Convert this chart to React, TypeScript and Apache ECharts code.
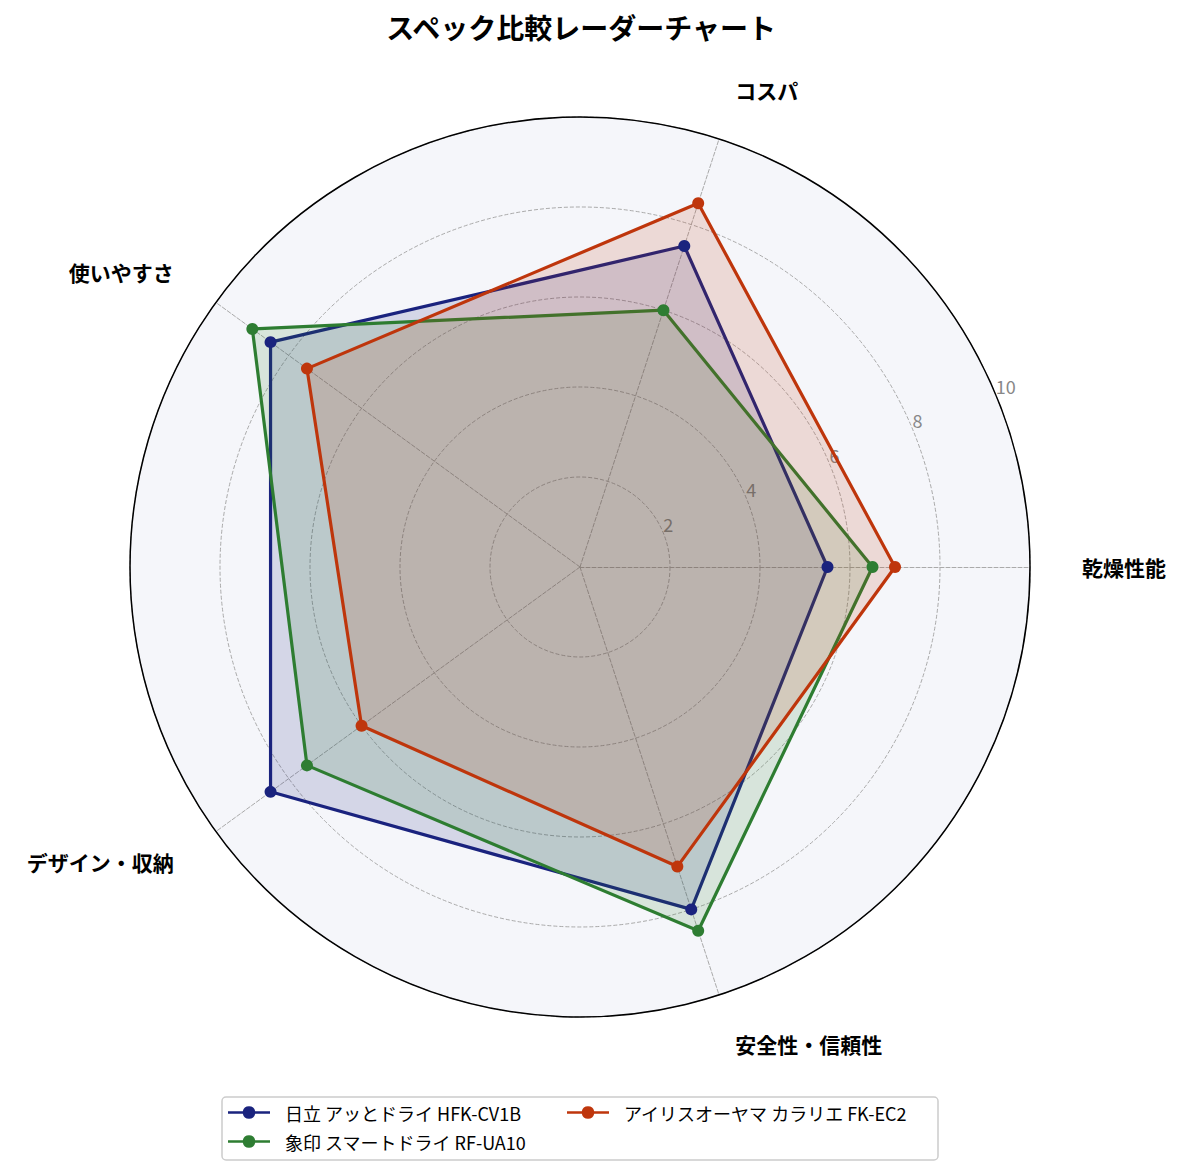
import React, { useEffect, useRef } from 'react';
import * as echarts from 'echarts';

const indicators = ['乾燥性能', 'コスパ', '使いやすさ', 'デザイン・収納', '安全性・信頼性'];
const seriesNames = ['日立 アッとドライ HFK-CV1B', '象印 スマートドライ RF-UA10', 'アイリスオーヤマ カラリエ FK-EC2'];
const hitachi = [5.5, 7.5, 8.5, 8.5, 8.0];
const zojirushi = [6.5, 6.0, 9.0, 7.5, 8.5];
const iris = [7.0, 8.5, 7.5, 6.0, 7.0];
const colors = ['#1a237e', '#2e7d32', '#bf360c'];
const maxValue = 10;

const FONT = '"Noto Sans CJK JP", "Noto Sans", sans-serif';
const legendIcon =
  'path://M0,5.8 L14.12,5.8 A6,6 0 0,1 25.88,5.8 L40,5.8 L40,8.2 L25.88,8.2 A6,6 0 0,1 14.12,8.2 L0,8.2 Z';

export default function App() {
  const ref = useRef<HTMLDivElement>(null);
  useEffect(() => {
    document.body.style.margin = '0';
    if (!ref.current) return;
    const chart = echarts.init(ref.current, null, { renderer: 'svg' });
    const center = [580, 567];
    const radius = 450;
    const values = [hitachi, zojirushi, iris];
    const legendText = { fontSize: 18, color: '#000', fontFamily: FONT, lineHeight: 21 };
    chart.setOption({
      animation: false,
      textStyle: { fontFamily: FONT },
      title: {
        text: 'スペック比較レーダーチャート',
        left: 576,
        textAlign: 'center',
        top: 8,
        textStyle: { fontSize: 28, fontWeight: 'bold', color: '#000', fontFamily: FONT },
      },
      legend: {
        left: 222,
        top: 1097,
        width: 720,
        data: [seriesNames[0], seriesNames[2], seriesNames[1]],
        icon: legendIcon,
        itemWidth: 42,
        itemHeight: 14,
        itemGap: 8,
        padding: [5, 8, 8, 6],
        borderColor: '#cccccc',
        borderWidth: 1.5,
        borderRadius: 4,
        formatter: (name: string) => (name === seriesNames[2] ? `{b|${name}}` : `{a|${name}}`),
        textStyle: {
          ...legendText,
          padding: [0, 0, 0, 10],
          rich: {
            a: { ...legendText, width: 274 },
            b: { ...legendText, width: 306 },
          },
        },
      },
      polar: { center, radius },
      angleAxis: { show: false, startAngle: 22.5, min: 0, max: 360 },
      radiusAxis: {
        min: 0,
        max: maxValue,
        interval: 2,
        z: 1,
        axisLine: { show: false },
        axisTick: { show: false },
        splitLine: { show: false },
        axisLabel: {
          showMinLabel: false,
          color: '#888888',
          fontSize: 18,
          fontFamily: FONT,
          margin: 0,
          align: 'left',
          verticalAlign: 'bottom',
        },
      },
      radar: [
        {
          center,
          radius,
          startAngle: 0,
          shape: 'circle',
          splitNumber: 5,
          indicator: indicators.map((name) => ({ name, max: maxValue, min: 0 })),
          axisName: { color: '#000', fontSize: 21, fontWeight: 'bold', fontFamily: FONT },
          nameGap: 52,
          axisLine: { lineStyle: { color: '#aaaaaa', type: 'dashed', width: 1 } },
          splitLine: { lineStyle: { color: '#aaaaaa', type: 'dashed', width: 1 } },
          splitArea: { show: true, areaStyle: { color: ['#f5f6fa'], opacity: 1 } },
        },
        {
          center,
          radius,
          startAngle: 0,
          shape: 'circle',
          splitNumber: 1,
          indicator: indicators.map(() => ({ name: '', max: maxValue, min: 0 })),
          axisName: { show: false },
          axisLine: { show: false },
          splitLine: { lineStyle: { color: '#000', type: 'solid', width: 1.5 } },
          splitArea: { show: false },
        },
      ],
      series: seriesNames.map((name, i) => ({
        type: 'radar',
        name,
        radarIndex: 0,
        z: 3,
        symbol: 'circle',
        symbolSize: 12,
        lineStyle: { color: colors[i], width: 3.2 },
        itemStyle: { color: colors[i] },
        areaStyle: { color: colors[i], opacity: 0.15 },
        data: [{ value: values[i], name }],
      })),
    });
    return () => chart.dispose();
  }, []);
  return <div ref={ref} style={{ width: '1187px', height: '1176px' }} />;
}
